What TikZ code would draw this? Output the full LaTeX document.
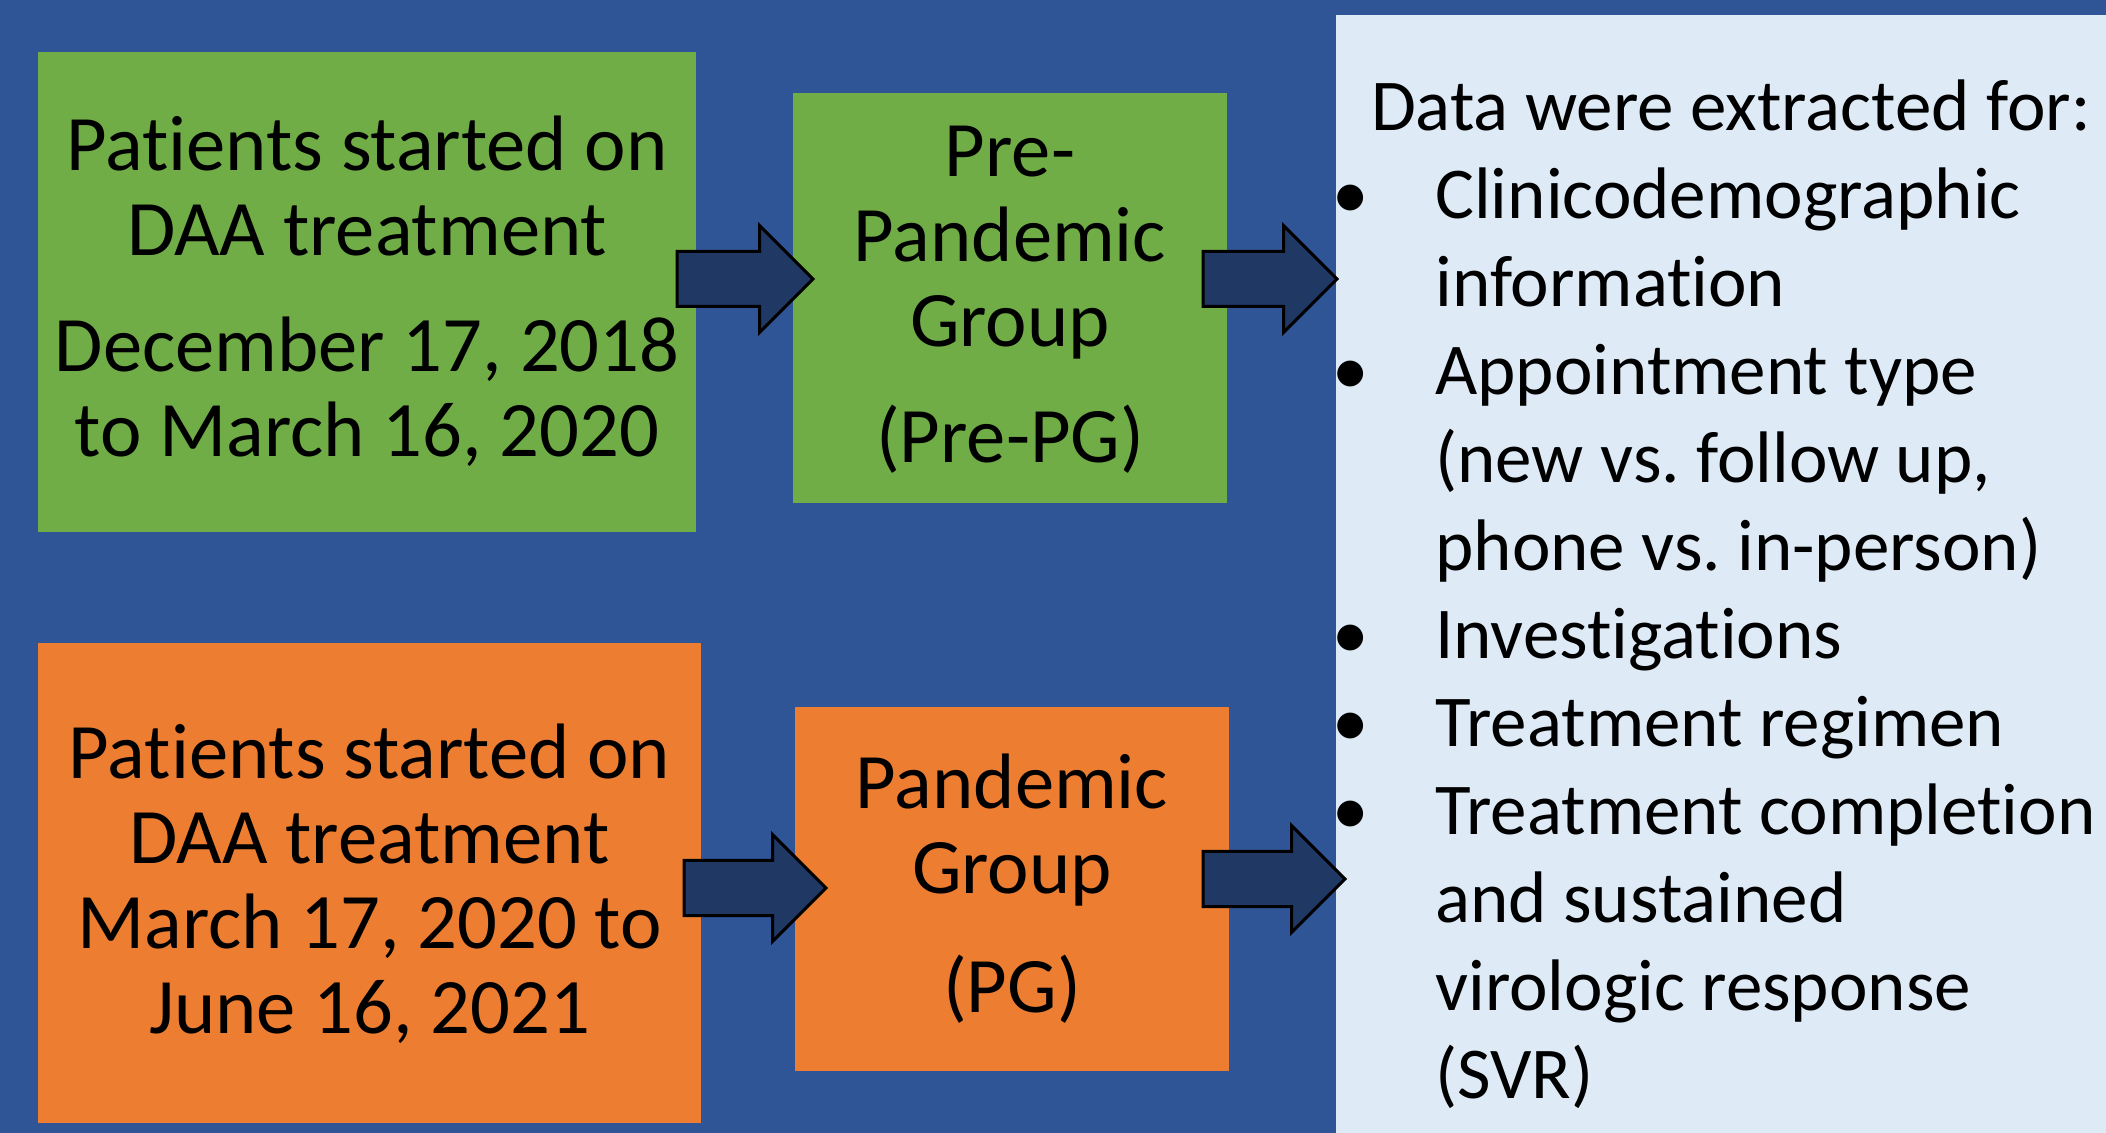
\documentclass[tikz,border=0pt]{standalone}
\usepackage{fontspec}
\setmainfont{Carlito}[Ligatures=NoCommon]
\usetikzlibrary{shapes.arrows}
\definecolor{bgblue}{HTML}{2F5597}
\definecolor{boxgreen}{HTML}{70AD47}
\definecolor{boxorange}{HTML}{ED7D31}
\definecolor{panelblue}{HTML}{DEEBF7}
\definecolor{arrowblue}{HTML}{203864}
\frenchspacing
\newcommand{\pitem}[1]{\par\noindent\hangindent=49.5pt\hangafter=1\makebox[49.5pt][l]{\hspace*{-2pt}•}#1}
\tikzset{
  box/.style={rectangle, inner sep=0pt, draw=none, anchor=north west},
  boxtext/.style={align=center, inner sep=0pt, font=\fontsize{39.3}{42.5}\selectfont, anchor=base},
  paneltext/.style={align=left, inner sep=0pt, text width=420pt,
    font=\fontsize{36.5}{44}\selectfont, anchor=base west},
  blockarrow/.style={single arrow, draw=black, line width=1.5pt, fill=arrowblue,
    inner xsep=0pt, inner ysep=13pt, single arrow head extend=13pt,
    single arrow tip angle=90, anchor=tail, outer sep=0pt},
}
\begin{document}
\begin{tikzpicture}[x=0.5pt,y=-0.5pt]
\useasboundingbox (0,0) rectangle (2106,1133);
\fill[bgblue] (0,0) rectangle (2106,1133);
\node[box, fill=panelblue, minimum width=385pt, minimum height=559pt] (panel) at (1336,15) {};
\node[box, fill=boxgreen, minimum width=329pt, minimum height=240pt] (g1) at (38,52) {};
\node[box, fill=boxgreen, minimum width=217pt, minimum height=205pt] (g2) at (793,93) {};
\node[box, fill=boxorange, minimum width=331.5pt, minimum height=240pt] (o1) at (38,643) {};
\node[box, fill=boxorange, minimum width=217pt, minimum height=182pt] (o2) at (795,707) {};

\node[boxtext] (g1t) at (367,457) {Patients started on\\DAA treatment\\[15.5pt]December 17, 2018\\to March 16, 2020};
\node[boxtext] (g2t) at (1010,463) {Pre-\\Pandemic\\Group\\[15.5pt](Pre-PG)};
\node[boxtext] (o1t) at (369.5,1033) {Patients started on\\DAA treatment\\March 17, 2020 to\\June 16, 2021};
\node[boxtext] (o2t) at (1012,1012) {Pandemic\\Group\\[17pt](PG)};

\node[paneltext] (pt) at (1336,131) {\raggedright\frenchspacing\spaceskip=8.2pt\relax\xspaceskip=8.2pt\relax
\hspace*{17.3pt}Data were extracted for:
\pitem{Clinicodemographic\newline information}
\pitem{Appointment type\newline (new vs. follow up,\newline phone vs. in-person)}
\pitem{Investigations}
\pitem{Treatment regimen}
\pitem{Treatment completion\newline and sustained\newline virologic response\newline (SVR)}\par};

\node[blockarrow, minimum height=68pt] (a1) at (677,279) {};
\node[blockarrow, minimum height=67pt] (a2) at (1203,279) {};
\node[blockarrow, minimum height=71pt] (a3) at (684,888) {};
\node[blockarrow, minimum height=71pt] (a4) at (1203,879) {};
\end{tikzpicture}
\end{document}
